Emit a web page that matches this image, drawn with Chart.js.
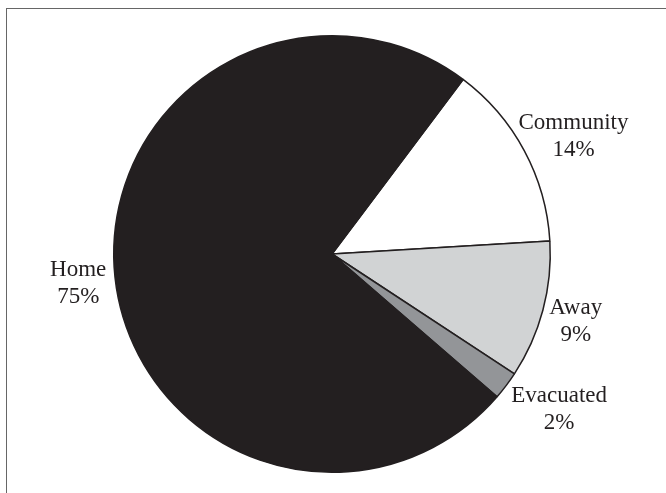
<!DOCTYPE html>
<html>
<head>
<meta charset="utf-8">
<script src="https://cdn.jsdelivr.net/npm/chart.js@4/dist/chart.umd.min.js"></script>
<style>
  html, body { margin: 0; padding: 0; background: #fff; overflow: hidden; }
  #wrap { position: relative; width: 666px; height: 493px; }
  #frame { position: absolute; left: 6px; top: 8px; width: 720px; height: 600px;
           border: 1.5px solid #666; box-sizing: border-box; }
  canvas { position: absolute; left: 0; top: 0; }
</style>
</head>
<body>
<div id="wrap">
  <div id="frame"></div>
  <canvas id="pieChart" width="666" height="493"></canvas>
</div>
<script>
// slices, clockwise starting at the Home/Community boundary
const categories = ["Community", "Away", "Evacuated", "Home"];
const shares = [13.8, 10.2, 2.1, 73.9];
const percentLabels = ["14%", "9%", "2%", "75%"];
const sliceColors = ["#ffffff", "#d1d3d4", "#939598", "#231f20"];

// draws "name / pct" outside each slice
const outsideLabels = {
    id: "outsideLabels",
    afterDatasetsDraw(chart) {
        const c = chart.ctx;
        const meta = chart.getDatasetMeta(0);
        const gaps = [51, 34, 56, 37]; // distance of label block beyond the rim
        const tweak = [2, 0, -3, 0];    // small angle nudge, degrees
        c.save();
        c.fillStyle = "#231f20";
        c.font = "23px 'Liberation Serif', 'Times New Roman', serif";
        c.textAlign = "center";
        c.textBaseline = "alphabetic";
        meta.data.forEach((arc, i) => {
            const p = arc.getProps(["x", "y", "startAngle", "endAngle", "outerRadius"], true);
            const mid = (p.startAngle + p.endAngle) / 2 + tweak[i] * Math.PI / 180;
            const d = p.outerRadius + gaps[i];
            const x = p.x + Math.cos(mid) * d;
            const y = p.y + Math.sin(mid) * d;
            c.fillText(categories[i], x, y - 5.5);
            c.fillText(percentLabels[i], x, y + 21.5);
        });
        c.restore();
    }
};

const ctx = document.getElementById("pieChart").getContext("2d");
const pieChart = new Chart(ctx, {
    type: "pie",
    data: {
        labels: categories,
        datasets: [{
            data: shares,
            backgroundColor: sliceColors,
            borderColor: "#231f20",
            borderWidth: 1.5
        }]
    },
    options: {
        responsive: false,
        animation: false,
        rotation: 36.9,
        layout: { padding: { top: 35, bottom: 20, left: 0, right: 2 } },
        plugins: {
            legend: { display: false },
            tooltip: { enabled: false }
        }
    },
    plugins: [outsideLabels]
});
</script>
</body>
</html>
